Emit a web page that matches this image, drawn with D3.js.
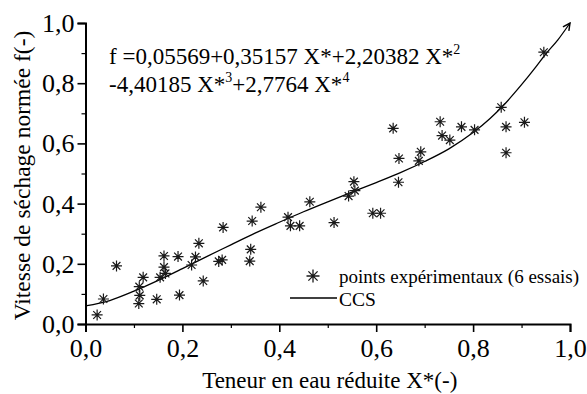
<!DOCTYPE html>
<html><head><meta charset="utf-8">
<script src="https://cdn.jsdelivr.net/npm/d3@7"></script>
</head><body style="margin:0"><svg id="c" width="587" height="394" font-family="Liberation Serif"></svg>
<script>
// Experimental points (X*, f)
const pointsX = [0.024,0.037,0.064,0.111,0.112,0.110,0.119,0.147,0.154,0.162,0.162,0.165,0.191,0.194,0.219,0.227,0.234,0.243,0.275,0.282,0.284,0.339,0.341,0.344,0.362,0.418,0.423,0.442,0.463,0.513,0.543,0.554,0.556,0.593,0.609,0.635,0.647,0.646,0.688,0.692,0.732,0.736,0.752,0.776,0.803,0.858,0.868,0.868,0.906,0.946];
const pointsY = [0.030,0.083,0.193,0.124,0.095,0.068,0.155,0.082,0.155,0.226,0.189,0.168,0.224,0.096,0.196,0.223,0.268,0.143,0.208,0.213,0.321,0.209,0.248,0.342,0.388,0.355,0.326,0.326,0.406,0.337,0.425,0.473,0.443,0.368,0.368,0.650,0.550,0.471,0.542,0.572,0.672,0.626,0.611,0.655,0.645,0.720,0.655,0.569,0.670,0.903];
// CCS curve
const curveX = [0,0.05,0.10,0.15,0.20,0.25,0.30,0.35,0.40,0.45,0.50,0.55,0.60,0.65,0.70,0.75,0.80,0.835,0.86,0.90,0.93,0.95,0.975,1.0];
const curveY = [0.060,0.078,0.109,0.145,0.184,0.224,0.263,0.302,0.338,0.373,0.406,0.438,0.470,0.503,0.540,0.582,0.636,0.683,0.722,0.795,0.855,0.897,0.944,1.0];
const xTicks = [0,0.2,0.4,0.6,0.8,1.0];
const yTicks = [0,0.2,0.4,0.6,0.8,1.0];
const minorTicks = [0.1,0.3,0.5,0.7,0.9];
const xTitle = "Teneur en eau réduite X*(-)";
const yTitle = "Vitesse de séchage normée f(-)";
const legendLabels = ["points expérimentaux (6 essais)", "CCS"];

const FONT = '"Liberation Serif"';
const svg = d3.select("#c");
const x = d3.scaleLinear().domain([0,1]).range([85.5,570]);
const y = d3.scaleLinear().domain([0,1]).range([324,23]);
const fmt = d => d3.format(".1f")(d).replace(".", ",");

// axes
const gx = svg.append("g").attr("transform","translate(0,324)")
  .call(d3.axisBottom(x).tickValues(xTicks).tickFormat(fmt).tickSize(8).tickPadding(4));
const gy = svg.append("g").attr("transform","translate(85.5,0)")
  .call(d3.axisLeft(y).tickValues(yTicks).tickFormat(fmt).tickSize(8).tickPadding(3));
[gx,gy].forEach(g=>{
  g.attr("font-family","Liberation Serif").attr("font-size",26);
  g.select(".domain").attr("stroke","#000").attr("stroke-width",2);
  g.selectAll(".tick line").attr("stroke","#000").attr("stroke-width",1.6);
  g.selectAll(".tick text").style("font-family",FONT).attr("fill","#000");
});
gx.selectAll(".tick text").attr("y",33).attr("dy",0);
gy.selectAll(".tick text").attr("x",-11).attr("dy","0.33em");
svg.append("g").attr("transform","translate(0,324)")
  .call(d3.axisBottom(x).tickValues(minorTicks).tickFormat("").tickSize(4))
  .call(g=>{g.select(".domain").remove();g.selectAll("line").attr("stroke","#000").attr("stroke-width",1.2);});
svg.append("g").attr("transform","translate(85.5,0)")
  .call(d3.axisLeft(y).tickValues(minorTicks).tickFormat("").tickSize(4))
  .call(g=>{g.select(".domain").remove();g.selectAll("line").attr("stroke","#000").attr("stroke-width",1.2);});

// titles
svg.append("text").attr("x",(x(0)+x(1))/2+2).attr("y",388).attr("text-anchor","middle")
  .style("font-family",FONT).attr("font-size",23).text(xTitle);
svg.append("text").attr("transform",`translate(30,${(y(0)+y(1))/2+2}) rotate(-90)`)
  .attr("text-anchor","middle").style("font-family",FONT).attr("font-size",23.5).text(yTitle);

// curve with arrow
svg.append("defs").append("marker").attr("id","arr").attr("viewBox","0 0 10 10")
  .attr("refX",9).attr("refY",5).attr("markerWidth",9).attr("markerHeight",9)
  .attr("markerUnits","userSpaceOnUse").attr("orient","auto")
  .append("path").attr("d","M1,1 L9,5 L1,9").attr("fill","none").attr("stroke","#000").attr("stroke-width",1.6);
const curveData = curveX.map((v,i)=>[v,curveY[i]]);
svg.append("path").datum(curveData)
  .attr("d", d3.line().x(d=>x(d[0])).y(d=>y(d[1])).curve(d3.curveMonotoneX))
  .attr("fill","none").attr("stroke","#000").attr("stroke-width",1.3).attr("marker-end","url(#arr)");

// star symbol
const R = 5.5;
const starPath = (cx,cy,r) => {
  let s = "";
  for (let k=0;k<4;k++){
    const a = k*Math.PI/4;
    const dx = r*Math.cos(a), dy = r*Math.sin(a);
    s += `M${cx-dx},${cy-dy}L${cx+dx},${cy+dy}`;
  }
  return s;
};
svg.append("g").selectAll("path").data(pointsX.map((v,i)=>[v,pointsY[i]])).join("path")
  .attr("d", d=>starPath(x(d[0]),y(d[1]),R))
  .attr("stroke","#1a1a1a").attr("stroke-width",1.2).attr("fill","none");

// formula
const f1 = svg.append("text").attr("x",109).attr("y",64).style("font-family",FONT).attr("font-size",23);
f1.append("tspan").text("f =0,05569+0,35157 X*+2,20382 X*");
f1.append("tspan").attr("dy",-10).attr("font-size",14).text("2");
const f2 = svg.append("text").attr("x",109).attr("y",92).style("font-family",FONT).attr("font-size",23);
f2.append("tspan").text("-4,40185 X*");
f2.append("tspan").attr("dy",-10).attr("font-size",14).text("3");
f2.append("tspan").attr("dy",10).text("+2,7764 X*");
f2.append("tspan").attr("dy",-10).attr("font-size",14).text("4");

// legend
svg.append("path").attr("d", starPath(313,276,6.5)).attr("stroke","#1a1a1a").attr("stroke-width",1.3);
svg.append("text").attr("x",339).attr("y",283).style("font-family",FONT).attr("font-size",19).text(legendLabels[0]);
svg.append("line").attr("x1",290).attr("x2",337).attr("y1",298).attr("y2",298).attr("stroke","#000").attr("stroke-width",1.3);
svg.append("text").attr("x",339).attr("y",306).style("font-family",FONT).attr("font-size",19.5).text(legendLabels[1]);
</script></body></html>
